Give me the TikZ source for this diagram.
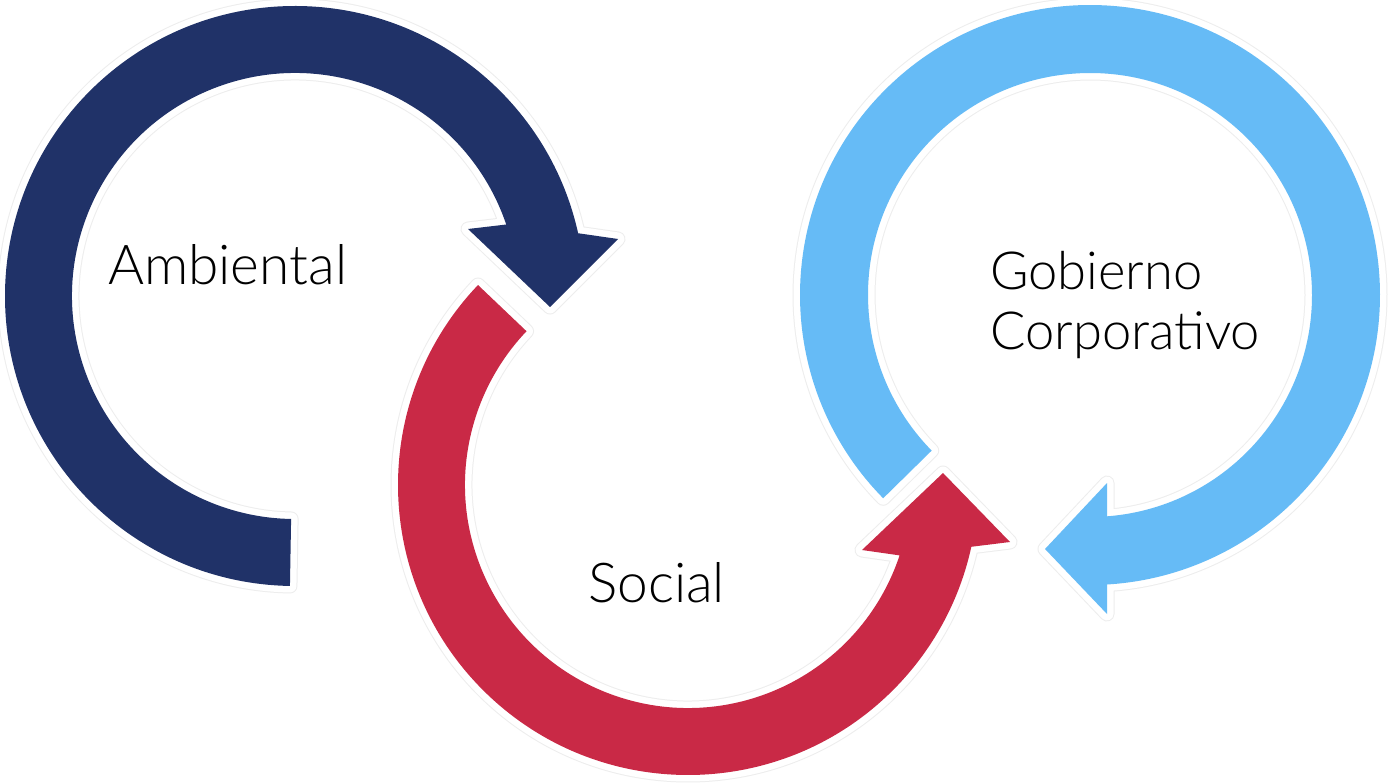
\documentclass[tikz,border=0pt]{standalone}
\usepackage{fontspec}
\setmainfont{Lato Light}
\usetikzlibrary{calc}
\definecolor{navy}{RGB}{32,50,104}
\definecolor{crimson}{RGB}{201,41,70}
\definecolor{sky}{RGB}{102,187,246}
\tikzset{
  halo/.style={draw=black!7, line width=15pt, line join=round},
  halowhite/.style={draw=white, line width=13pt, line join=round},
  lbl/.style={inner sep=0pt, anchor=base west, text=black},
}
\begin{document}
\begin{tikzpicture}[x=1pt,y=1pt]
\useasboundingbox (0,0) rectangle (1389,-783);
\fill[white] (0,0) rectangle (1389,-783);
\coordinate (D) at (295,-296);
\coordinate (R) at (688,-485);
\coordinate (L) at (1090,-295);
% head points
\coordinate (dB1) at (618,-239);
\coordinate (dT) at (550,-307);
\coordinate (dB2) at (468,-229);
\coordinate (rB1) at (1010,-542);
\coordinate (rT) at (943,-473);
\coordinate (rB2) at (862,-550);
\coordinate (lB1) at (1107,-614);
\coordinate (lT) at (1045,-549);
\coordinate (lB2) at (1107,-483);
% paths as macros
\def\navyarrow{($(D)+(269:290)$) arc[start angle=269, end angle=12.5, radius=290pt] -- (dB1) -- (dT) -- (dB2) -- ($(D)+(18.7:223)$) arc[start angle=18.7, end angle=269, radius=223pt] -- cycle}
\def\skyarrow{($(L)+(224.5:290)$) arc[start angle=224.5, end angle=-86.6, radius=290pt] -- (lB1) -- (lT) -- (lB2) -- ($(L)+(-85.6:222)$) arc[start angle=-85.6, end angle=224.5, radius=222pt] -- cycle}
\def\redarrow{($(R)+(136.4:290)$) arc[start angle=136.4, end angle=347.7, radius=290pt] -- (rB1) -- (rT) -- (rB2) -- ($(R)+(341.6:223)$) arc[start angle=341.6, end angle=136.4, radius=223pt] -- cycle}
\path[halo] \navyarrow;
\path[halowhite] \navyarrow;
\fill[navy] \navyarrow;
\path[halo] \skyarrow;
\path[halowhite] \skyarrow;
\fill[sky] \skyarrow;
\path[halo] \redarrow;
\path[halowhite] \redarrow;
\fill[crimson] \redarrow;
% labels
\node[lbl, font=\fontsize{55}{60}\selectfont] (amb) at (108,-285) {Ambiental};
\node[lbl, font=\fontsize{55}{60}\selectfont] (soc) at (588,-602) {Social};
\node[lbl, font=\fontsize{52.5}{60}\selectfont] (gob) at (990,-290) {Gobierno};
\node[lbl, font=\fontsize{52.5}{60}\selectfont] (cor) at (990,-350) {Corporativo};
\end{tikzpicture}
\end{document}
